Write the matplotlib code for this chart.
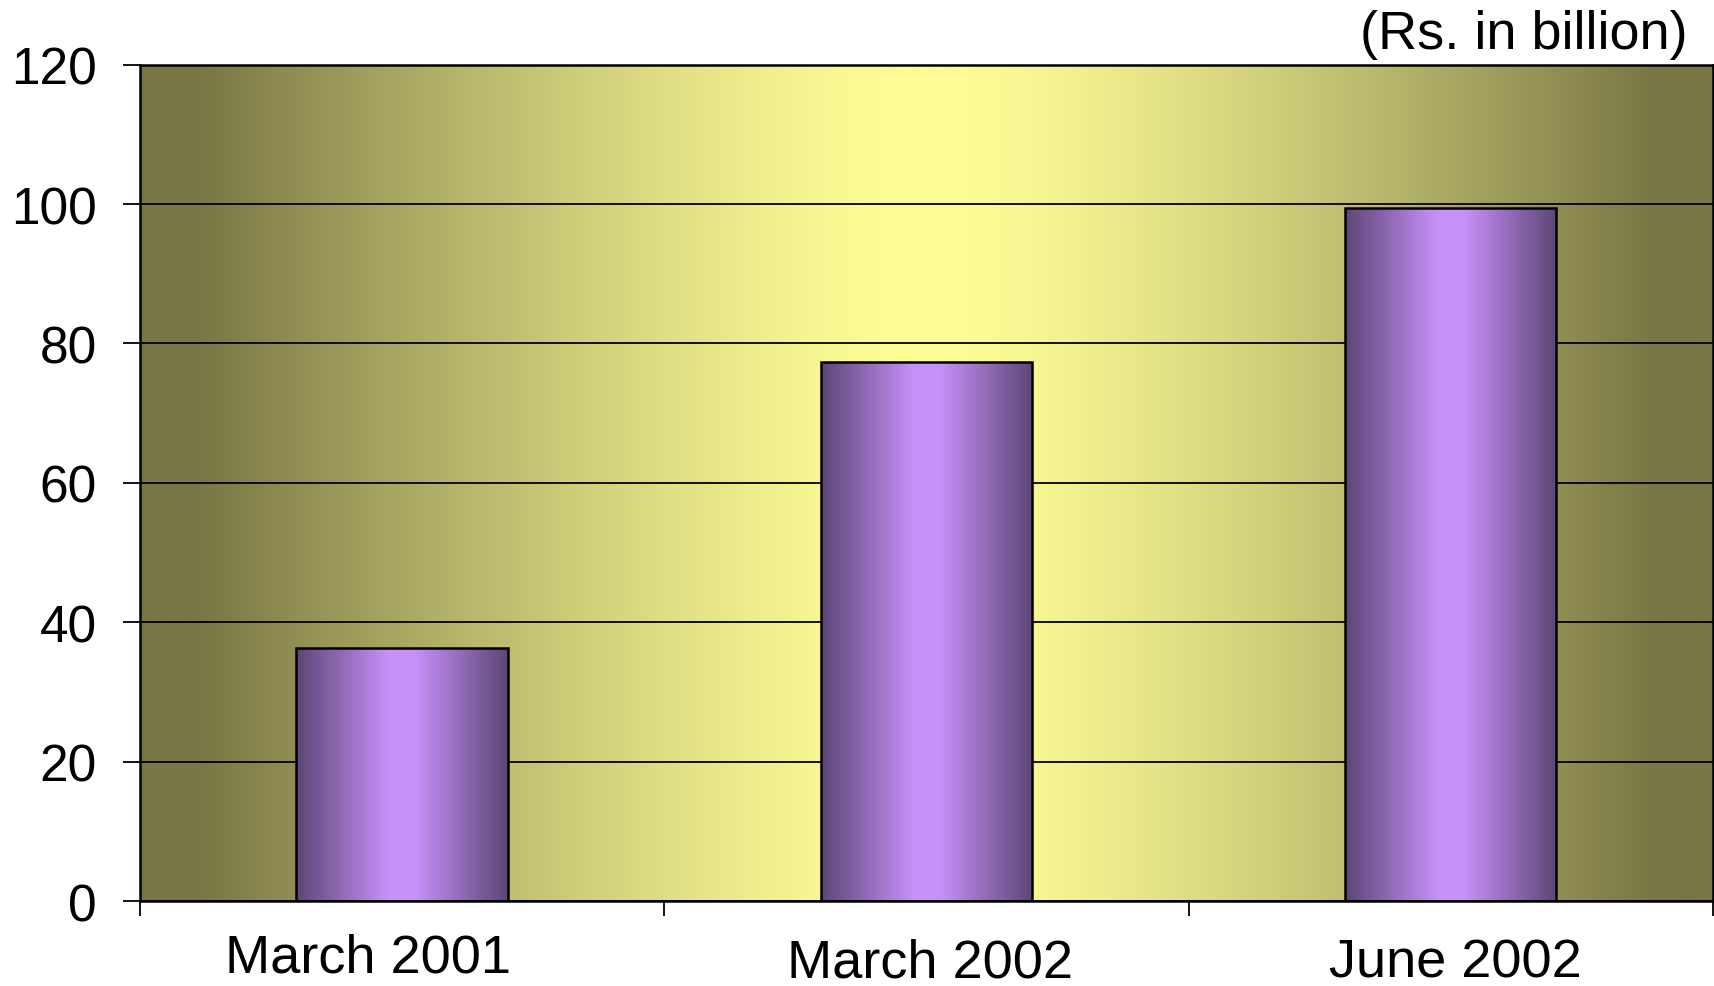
import numpy as np
import matplotlib
matplotlib.use('Agg')
import matplotlib.pyplot as plt
import matplotlib.transforms as mtransforms

plt.rcParams['font.family'] = ['Liberation Sans', 'DejaVu Sans']

categories = ['March 2001', 'March 2002', 'June 2002']
values = [36.3, 77.4, 99.4]
y_ticks = [0, 20, 40, 60, 80, 100, 120]

# label nudges (px) seen in the reference
label_dx = [-34, 4, 5]
label_dy = [0, -5, -5]

bg_dark = np.array([120, 118, 68]) / 255
bg_light = np.array([252, 252, 150]) / 255
bar_dark = np.array([92, 70, 118]) / 255
bar_light = np.array([200, 145, 250]) / 255


def ramp(dark, light, n=400, flat=0.0, edge=1.0, gamma=1.0):
    t = np.abs(np.linspace(-1, 1, n))
    t = np.clip((t - flat) / (edge - flat), 0, 1) ** gamma
    return (light[None, :] * (1 - t[:, None]) + dark[None, :] * t[:, None])[None, :, :]


def run():
    fig = plt.figure(figsize=(17.15, 9.87), dpi=100)
    ax = fig.add_axes([0.0816, 0.0861, 0.9172, 0.8474])

    x = np.arange(len(categories))
    ax.imshow(ramp(bg_dark, bg_light, flat=0.06, edge=0.93, gamma=1.3),
              extent=[-0.5, 2.5, 0, 120], aspect='auto', zorder=0,
              interpolation='bilinear')

    bars = ax.bar(x, values, width=0.403, color='none', edgecolor='black',
                  linewidth=1.8, zorder=3)
    for b in bars:
        x0 = b.get_x()
        im = ax.imshow(ramp(bar_dark, bar_light, flat=0.12),
                       extent=[x0, x0 + b.get_width(), 0, b.get_height()],
                       aspect='auto', zorder=2, interpolation='bilinear')
        im.set_clip_path(b)

    ax.set_xlim(-0.5, 2.5)
    ax.set_ylim(0, 120)

    ax.set_axisbelow('line')
    ax.yaxis.grid(True, color='black', linewidth=1.3)
    ax.set_yticks(y_ticks)
    ax.tick_params(axis='y', length=12, width=1.3, pad=19, labelsize=37)

    ax.set_xticks([-0.5, 0.5, 1.5, 2.5])
    ax.set_xticklabels([])
    ax.set_xticks(x, minor=True)
    ax.set_xticklabels(categories, minor=True)
    ax.tick_params(axis='x', which='major', length=11, width=1.3)
    ax.tick_params(axis='x', which='minor', length=0, pad=23, labelsize=39)
    for lbl, dx, dy in zip(ax.get_xticklabels(minor=True), label_dx, label_dy):
        off = mtransforms.ScaledTranslation(dx / 100, dy / 100, fig.dpi_scale_trans)
        lbl.set_transform(lbl.get_transform() + off)

    for s in ax.spines.values():
        s.set_linewidth(1.8)
        s.set_color('black')

    fig.text(1688 / 1715, 1 - 49 / 987, '(Rs. in billion)', ha='right',
             va='baseline', fontsize=39)

    fig.savefig('out.png', dpi=100)


if __name__ == '__main__':
    run()
